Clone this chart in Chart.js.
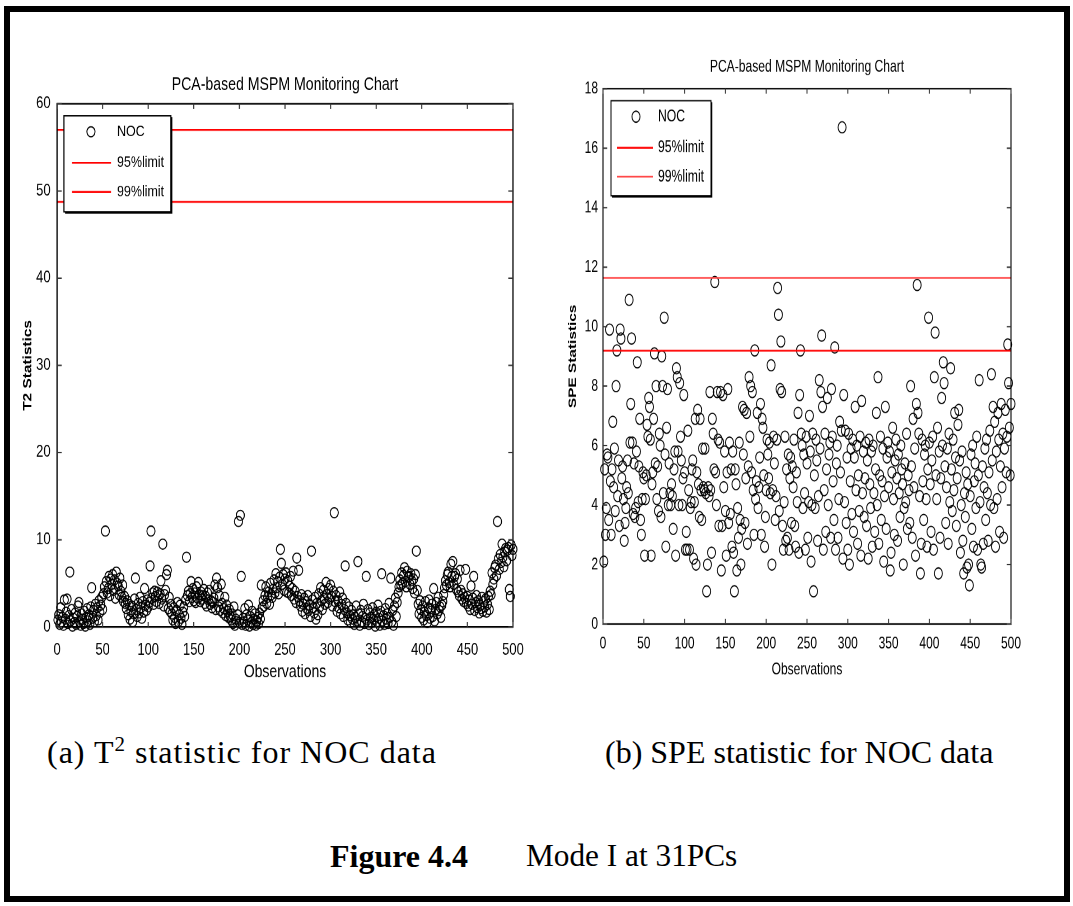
<!DOCTYPE html>
<html>
<head>
<meta charset="utf-8">
<script src="https://cdn.jsdelivr.net/npm/chart.js@4.4.1/dist/chart.umd.min.js"></script>
<style>
  html, body { margin: 0; padding: 0; background: #fff; }
  body { width: 1073px; height: 906px; position: relative; overflow: hidden; }
  .frame { position: absolute; left: 4px; top: 6px; width: 1066px; height: 896px; box-sizing: border-box; border: 6px solid #000; }
  /* the source figures are stretched, so the charts are drawn small and scaled up */
  .plot { position: absolute; top: 50px; height: 465px; transform-origin: 0 0; }
  .cap { position: absolute; font-family: "Liberation Serif", "Times New Roman", serif; font-size: 32px; line-height: 32px; white-space: nowrap; color: #000; }
  .sup { font-size: 21px; position: relative; top: -12px; }
</style>
</head>
<body>
<div class="frame"></div>
<div class="plot" style="left:0;width:482px;transform:scale(1.12,1.4)"><canvas id="t2"></canvas></div>
<div class="plot" style="left:540px;width:533px;transform:scaleY(1.4)"><canvas id="spe"></canvas></div>
<div class="cap" style="left:47px;top:736px;letter-spacing:1px">(a) T<span class="sup">2</span> statistic for NOC data</div>
<div class="cap" style="left:605px;top:736px">(b) SPE statistic for NOC data</div>
<div class="cap" style="left:330px;top:840px"><b>Figure 4.4</b></div>
<div class="cap" style="left:526px;top:840px;font-size:31.3px">Mode I at 31PCs</div>
<script>
// T2 statistic, observations 1..500
const t2Values = [
  0.8, 1.4, 0.3, 2.2, 0.6, 1.1, 0.2, 3.1, 0.9, 1.7, 3.2, 0.4, 1.3, 6.3, 0.7, 2.0, 0.1, 1.0, 0.5, 1.6, 0.3, 1.2, 2.4, 2.8, 0.6,
  0.2, 1.5, 0.9, 0.4, 1.8, 0.1, 1.1, 2.1, 0.7, 1.4, 0.3, 2.3, 4.5, 1.0, 1.9, 0.6, 2.6, 1.3, 2.2, 0.8, 3.0, 1.7, 2.5, 3.4, 2.0,
  3.8, 4.6, 11.0, 5.2, 3.9, 4.4, 5.8, 3.6, 5.5, 4.9, 6.0, 4.2, 5.4, 3.3, 6.3, 5.0, 4.7, 3.7, 5.6, 4.1, 3.4, 4.8, 2.9, 3.5, 2.7,
  2.1, 3.0, 1.4, 2.6, 0.9, 1.8, 2.4, 0.6, 1.5, 3.2, 5.6, 2.0, 1.2, 2.7, 1.6, 3.4, 2.2, 1.0, 2.9, 1.7, 4.4, 2.5, 1.9, 3.1, 2.3,
  2.8, 7.0, 11.0, 3.3, 3.9, 2.6, 4.1, 3.5, 2.9, 4.0, 3.6, 2.7, 3.8, 5.3, 3.2, 9.5, 2.4, 3.7, 4.2, 6.0, 6.5, 2.1, 3.4, 1.8, 2.6,
  1.5, 0.8, 2.2, 1.1, 0.4, 1.9, 2.8, 0.6, 1.4, 2.5, 1.0, 0.3, 1.7, 2.3, 1.2, 3.1, 8.0, 3.6, 4.1, 2.9, 3.8, 5.2, 3.4, 4.4, 3.0,
  3.9, 2.8, 4.6, 3.3, 5.1, 3.7, 2.9, 4.0, 3.2, 3.6, 4.3, 2.7, 3.5, 2.4, 3.9, 3.1, 4.2, 2.6, 3.0, 2.2, 2.8, 3.3, 4.8, 2.0, 5.6,
  4.5, 2.3, 3.6, 1.9, 4.9, 2.7, 1.6, 2.1, 3.4, 1.3, 2.5, 1.8, 1.1, 2.0, 1.2, 0.8, 1.5, 0.4, 2.3, 0.2, 0.9, 0.6, 1.4, 12.1, 0.5,
  12.8, 5.8, 0.3, 1.0, 0.6, 2.1, 0.2, 1.4, 0.8, 2.5, 0.1, 1.2, 0.5, 1.8, 0.3, 0.9, 1.5, 0.2, 0.7, 1.1, 0.4, 1.6, 0.9, 4.8, 2.2,
  3.0, 2.4, 3.6, 4.6, 2.7, 3.4, 4.0, 2.6, 5.0, 3.7, 3.4, 4.3, 5.4, 3.9, 6.1, 4.5, 5.2, 3.8, 5.7, 8.9, 7.3, 4.9, 6.0, 4.2, 5.5,
  6.2, 4.0, 5.3, 3.9, 4.7, 5.8, 3.6, 4.4, 6.4, 3.2, 4.1, 2.8, 7.9, 3.5, 6.5, 3.0, 2.4, 3.7, 1.8, 2.6, 3.3, 1.5, 2.9, 2.1, 3.6,
  1.9, 2.5, 1.2, 8.7, 3.1, 2.2, 1.6, 3.4, 0.9, 2.7, 1.4, 3.8, 2.3, 4.5, 3.0, 2.0, 4.2, 3.3, 2.6, 5.1, 3.7, 2.8, 4.4, 3.2, 4.8,
  3.5, 2.4, 4.1, 13.1, 2.9, 3.6, 1.8, 3.0, 2.2, 4.0, 1.5, 2.6, 3.3, 1.2, 2.0, 7.0, 2.7, 1.6, 0.8, 2.3, 1.3, 0.5, 1.9, 0.9, 1.4,
  0.3, 1.1, 2.4, 0.7, 7.5, 1.5, 0.2, 1.9, 0.6, 1.2, 2.6, 0.4, 1.0, 5.8, 0.8, 2.0, 0.3, 1.6, 1.1, 0.5, 2.2, 0.9, 1.4, 0.1, 1.7,
  0.6, 2.5, 1.0, 0.2, 1.8, 6.1, 0.7, 1.3, 0.3, 2.1, 0.9, 1.5, 0.4, 2.7, 1.1, 5.6, 0.6, 1.9, 0.2, 2.4, 3.3, 1.2, 2.8, 3.9, 4.6,
  5.4, 4.8, 6.2, 5.0, 5.9, 6.8, 5.2, 4.6, 6.4, 5.7, 5.8, 4.9, 6.1, 5.3, 4.4, 5.5, 3.9, 6.0, 8.7, 4.2, 2.6, 1.5, 3.0, 2.0, 1.1,
  2.4, 0.8, 1.7, 2.9, 1.3, 0.5, 2.2, 3.1, 1.0, 1.8, 2.6, 1.2, 4.4, 0.7, 2.0, 2.8, 1.5, 3.4, 1.9, 2.3, 1.1, 2.5, 2.9, 3.7, 4.5,
  5.3, 4.8, 6.0, 6.3, 5.1, 4.6, 7.2, 5.8, 7.5, 4.9, 5.8, 6.1, 4.3, 5.5, 4.0, 3.6, 6.5, 4.2, 3.2, 3.8, 2.9, 3.4, 6.6, 2.7, 3.5,
  2.4, 3.1, 2.0, 4.7, 2.6, 3.3, 5.8, 1.9, 2.8, 3.6, 2.2, 3.0, 1.6, 2.5, 2.1, 3.4, 1.8, 2.9, 2.3, 3.2, 1.7, 2.6, 3.5, 2.0, 4.1,
  3.7, 6.2, 4.9, 5.5, 6.8, 7.1, 5.9, 12.1, 7.8, 6.6, 8.3, 7.4, 9.5, 8.0, 6.9, 8.6, 9.0, 7.6, 8.8, 9.1, 4.3, 3.5, 9.4, 8.2, 8.9
];

// SPE statistic, observations 1..500
const speValues = [
  2.1, 5.2, 3.0, 3.9, 5.7, 5.6, 3.5, 9.9, 4.8, 3.0, 5.2, 6.8, 4.6, 5.9, 3.8, 8.0, 9.2, 4.3, 5.5, 3.3, 9.9, 9.6, 4.9, 5.3, 4.2,
  2.8, 3.4, 3.9, 4.6, 5.5, 4.4, 10.9, 6.1, 7.4, 9.6, 6.1, 3.7, 5.4, 3.6, 3.9, 5.8, 8.8, 4.1, 5.3, 6.9, 3.5, 3.0, 4.2, 5.1, 4.9,
  2.3, 4.2, 5.0, 6.7, 6.3, 7.6, 7.3, 6.2, 2.3, 4.7, 5.1, 6.9, 9.1, 5.4, 8.0, 4.2, 5.3, 3.8, 6.4, 6.0, 3.6, 9.0, 8.0, 4.4, 10.3,
  5.7, 2.6, 6.6, 7.9, 4.0, 5.4, 4.4, 4.0, 4.7, 4.3, 3.2, 5.2, 5.8, 2.3, 8.6, 8.3, 5.8, 4.0, 8.1, 6.3, 5.5, 4.0, 4.9, 7.7, 5.1,
  2.5, 3.1, 2.5, 6.5, 4.5, 2.5, 3.9, 4.1, 5.2, 5.5, 2.2, 4.1, 6.9, 2.0, 5.1, 7.2, 4.7, 3.6, 6.9, 4.5, 3.5, 5.9, 4.6, 4.5, 5.9,
  4.4, 1.1, 2.0, 4.6, 4.3, 7.8, 4.5, 2.4, 6.9, 6.4, 5.2, 11.5, 5.1, 4.0, 7.8, 6.2, 3.3, 6.1, 7.8, 1.8, 3.3, 7.7, 4.6, 5.8, 3.8,
  2.3, 5.1, 7.9, 3.4, 6.1, 3.7, 5.2, 2.6, 5.8, 2.4, 1.1, 5.2, 4.7, 1.8, 3.9, 2.9, 6.1, 3.5, 2.0, 3.2, 7.3, 5.7, 7.2, 3.4, 4.9,
  7.1, 2.7, 5.3, 8.3, 6.3, 8.0, 5.1, 7.8, 4.5, 3.0, 9.2, 4.2, 4.8, 7.1, 3.9, 4.6, 5.6, 7.4, 3.0, 6.9, 6.6, 5.0, 2.6, 3.6, 4.5,
  6.2, 5.7, 4.9, 6.1, 4.4, 8.7, 2.0, 4.5, 6.3, 5.4, 3.5, 4.3, 6.2, 11.3, 10.4, 3.8, 7.9, 9.5, 7.8, 3.3, 2.5, 4.1, 6.3, 2.8, 5.2,
  2.9, 5.7, 2.5, 4.9, 5.6, 3.4, 5.3, 4.6, 6.2, 3.3, 2.6, 5.1, 4.1, 7.1, 2.4, 7.7, 9.2, 6.4, 6.0, 3.9, 5.7, 4.4, 2.5, 6.3, 5.4,
  2.9, 4.1, 7.0, 5.8, 2.1, 4.0, 6.4, 1.1, 5.0, 3.9, 6.2, 5.5, 2.8, 4.3, 8.2, 5.9, 7.8, 9.7, 7.3, 2.5, 4.5, 6.4, 3.1, 5.2, 7.6,
  4.0, 5.7, 6.1, 2.9, 7.9, 6.3, 4.8, 3.5, 9.3, 2.5, 5.4, 6.0, 2.9, 4.2, 6.8, 5.1, 6.5, 16.7, 2.2, 7.7, 4.1, 6.5, 3.4, 5.6, 2.5,
  6.4, 2.0, 4.8, 5.9, 3.7, 6.2, 3.1, 5.6, 7.3, 4.5, 6.0, 2.7, 5.0, 3.8, 6.3, 2.3, 7.5, 4.4, 5.8, 3.6, 4.9, 6.1, 3.3, 5.5, 2.2,
  6.2, 4.7, 3.9, 5.8, 2.6, 6.0, 4.4, 3.1, 5.2, 7.1, 4.0, 8.3, 2.7, 5.0, 6.3, 3.5, 4.8, 5.9, 2.1, 4.3, 7.3, 3.2, 5.6, 6.1, 4.6,
  5.8, 1.8, 2.4, 5.1, 6.6, 4.2, 3.0, 5.5, 6.2, 4.9, 2.8, 5.7, 4.4, 3.6, 6.0, 5.2, 4.7, 2.0, 3.9, 5.4, 4.1, 6.4, 3.2, 5.0, 4.5,
  3.4, 8.0, 5.3, 2.9, 6.9, 4.6, 5.9, 2.3, 7.4, 11.4, 7.1, 6.4, 4.3, 1.7, 2.7, 6.2, 4.8, 3.5, 5.7, 6.0, 4.2, 2.6, 5.2, 10.3, 6.1,
  4.7, 3.1, 5.5, 6.3, 2.5, 8.3, 9.8, 5.0, 4.2, 6.6, 1.7, 5.8, 2.9, 4.9, 7.6, 6.0, 8.8, 8.1, 5.3, 3.4, 4.6, 5.9, 2.7, 6.4, 4.1,
  8.6, 5.2, 3.8, 6.2, 4.5, 7.1, 5.6, 3.3, 4.9, 6.7, 7.2, 5.5, 2.4, 4.0, 5.8, 2.8, 1.7, 4.4, 3.6, 5.1, 1.9, 4.7, 2.0, 1.3, 4.3,
  5.7, 3.2, 6.0, 2.6, 4.8, 5.4, 3.9, 6.3, 2.5, 5.0, 8.2, 4.1, 2.0, 1.9, 5.3, 2.7, 4.6, 5.9, 3.5, 6.2, 4.4, 2.8, 5.1, 6.5, 4.0,
  8.4, 5.5, 7.3, 3.9, 6.8, 2.6, 5.8, 4.2, 7.1, 6.2, 3.1, 5.3, 7.4, 4.6, 6.4, 2.9, 5.9, 7.2, 5.1, 6.3, 9.4, 8.1, 6.6, 5.0, 7.4
];

const observations = t2Values.map((v, i) => i + 1);
const limitLabels = ['95%limit', '99%limit'];
const t2Limits = [48.75, 57.0];
const speLimits = [9.19, 11.64];

Chart.defaults.font.family = '"Liberation Sans", Arial, sans-serif';
Chart.defaults.color = '#000';

// box round the axes with MATLAB style inward ticks; title centred on the axes
const matlabAxes = {
  id: 'matlabAxes',
  afterLayout(chart) {
    const t = chart.titleBlock, a = chart.chartArea;
    if (t) {
      t.left = a.left;
      t.right = a.right;
      t.width = a.right - a.left;
    }
  },
  afterDatasetsDraw(chart) {
    const {ctx, chartArea: a, scales: {x, y}} = chart;
    ctx.save();
    ctx.strokeStyle = '#000';
    ctx.lineWidth = 1.1;
    ctx.strokeRect(a.left, a.top, a.right - a.left, a.bottom - a.top);
    ctx.beginPath();
    ctx.moveTo(a.left, a.bottom);
    ctx.lineTo(a.right, a.bottom);
    ctx.stroke();
    ctx.strokeStyle = '#333';
    ctx.lineWidth = 1;
    ctx.beginPath();
    x.ticks.forEach(t => {
      const px = x.getPixelForValue(t.value);
      ctx.moveTo(px, a.bottom); ctx.lineTo(px, a.bottom - 3.6);
      ctx.moveTo(px, a.top); ctx.lineTo(px, a.top + 3.6);
    });
    y.ticks.forEach(t => {
      const py = y.getPixelForValue(t.value);
      ctx.moveTo(a.left, py); ctx.lineTo(a.left + 4.2, py);
      ctx.moveTo(a.right, py); ctx.lineTo(a.right - 4.2, py);
    });
    ctx.stroke();
    ctx.restore();
  }
};

// boxed legend in the upper left corner
const boxLegend = {
  id: 'boxLegend',
  afterDraw(chart, args, o) {
    const {ctx, chartArea: a} = chart;
    const x0 = a.left + o.dx, y0 = a.top + o.dy;
    ctx.save();
    ctx.fillStyle = '#fff';
    ctx.fillRect(x0, y0, o.w, o.h);
    ctx.strokeStyle = '#000';
    ctx.lineWidth = 1;
    ctx.strokeRect(x0, y0, o.w, o.h);
    ctx.lineWidth = 1.5;
    ctx.beginPath();
    ctx.moveTo(x0 + o.w + 0.5, y0 + 1);
    ctx.lineTo(x0 + o.w + 0.5, y0 + o.h + 0.5);
    ctx.lineTo(x0 + 1, y0 + o.h + 0.5);
    ctx.stroke();
    ctx.font = o.fontSize + 'px "Liberation Sans", Arial, sans-serif';
    ctx.textBaseline = 'middle';
    ctx.textAlign = 'left';
    chart.data.datasets.forEach((ds, i) => {
      const cy = y0 + o.rows[i];
      if (ds.type === 'scatter') {
        ctx.strokeStyle = '#000';
        ctx.lineWidth = 0.9;
        ctx.beginPath();
        ctx.arc(x0 + o.markX, cy, ds.pointRadius, 0, Math.PI * 2);
        ctx.stroke();
      } else {
        ctx.strokeStyle = ds.borderColor;
        ctx.lineWidth = 1.3;
        ctx.beginPath();
        ctx.moveTo(x0 + o.lineX[0], cy);
        ctx.lineTo(x0 + o.lineX[1], cy);
        ctx.stroke();
      }
      ctx.fillStyle = '#000';
      ctx.fillText(ds.label, x0 + o.textX, cy);
    });
    ctx.restore();
  }
};

function makeChart(id, g) {
  const datasets = [{
    type: 'scatter',
    label: 'NOC',
    data: g.values.map((v, i) => ({x: observations[i], y: v})),
    borderColor: '#000',
    backgroundColor: 'rgba(0,0,0,0)',
    pointRadius: g.radius,
    pointBorderWidth: 0.9,
    clip: 10,
    order: 2
  }];
  g.limits.forEach((v, i) => datasets.push({
    type: 'line',
    label: limitLabels[i],
    data: [{x: 0, y: v}, {x: 500, y: v}],
    borderColor: g.colors[i],
    borderWidth: 1.3,
    pointRadius: 0,
    order: 1
  }));

  return new Chart(document.getElementById(id), {
    data: {datasets},
    plugins: [matlabAxes, boxLegend],
    options: {
      responsive: true,
      maintainAspectRatio: false,
      devicePixelRatio: 2,
      animation: false,
      layout: {padding: {left: 0, right: g.padRight, top: 0, bottom: 0}},
      plugins: {
        legend: {display: false},
        tooltip: {enabled: false},
        title: {
          display: true,
          text: 'PCA-based MSPM Monitoring Chart',
          font: {size: g.titleFont, weight: 'normal'},
          color: '#000',
          padding: {top: g.titleTop, bottom: g.titleBottom}
        },
        boxLegend: g.legend
      },
      scales: {
        x: {
          type: 'linear',
          min: 0, max: 500,
          grid: {display: false, drawTicks: false},
          border: {display: false},
          ticks: {stepSize: 50, autoSkip: false, maxRotation: 0, padding: g.xTickPad, font: {size: g.tickFont}, color: '#000'},
          title: {display: true, text: 'Observations', font: {size: g.labelFont}, color: '#000', padding: {top: 0, bottom: g.xTitlePad}},
          afterFit: s => { s.height = g.xHeight; }
        },
        y: {
          min: 0, max: g.yMax,
          grid: {display: false, drawTicks: false},
          border: {display: false},
          ticks: {stepSize: g.yStep, autoSkip: false, padding: g.yTickPad, font: {size: g.tickFont}, color: '#000'},
          title: {display: true, text: g.yTitle, font: {size: 11, weight: 'bold'}, color: '#000', padding: {top: g.yTitlePad, bottom: 0}},
          afterFit: s => { s.width = g.yWidth; }
        }
      }
    }
  });
}

makeChart('t2', {
  values: t2Values, limits: t2Limits, colors: ['#ff0000', '#ff0000'],
  yMax: 60, yStep: 10, yTitle: 'T2 Statistics',
  titleFont: 12.6, tickFont: 11.5, labelFont: 12.5, radius: 3.6,
  yWidth: 50.9, padRight: 24, xHeight: 52.9,
  titleTop: 17.4, titleBottom: 5.9,
  xTickPad: 9.7, xTitlePad: 13.2, yTickPad: 5.8, yTitlePad: 18.4,
  legend: {dx: 6.2, dy: 8.6, w: 95.5, h: 68.6, rows: [11.4, 33.6, 54.3], markX: 24.1, lineX: [7.2, 42], textX: 47.4, fontSize: 11.1}
});

makeChart('spe', {
  values: speValues, limits: speLimits, colors: ['#ff0000', '#ff4848'],
  yMax: 18, yStep: 2, yTitle: 'SPE Statistics',
  titleFont: 12.1, tickFont: 12, labelFont: 12, radius: 4.0,
  yWidth: 63, padRight: 62, xHeight: 55,
  titleTop: 4.8, titleBottom: 8.3,
  xTickPad: 7, xTitlePad: 15, yTickPad: 5, yTitlePad: 26.4,
  legend: {dx: 8, dy: 8.6, w: 100, h: 67.9, rows: [11.4, 33.6, 54.3], markX: 25, lineX: [6, 42], textX: 47, fontSize: 12.2}
});
</script>
</body>
</html>
